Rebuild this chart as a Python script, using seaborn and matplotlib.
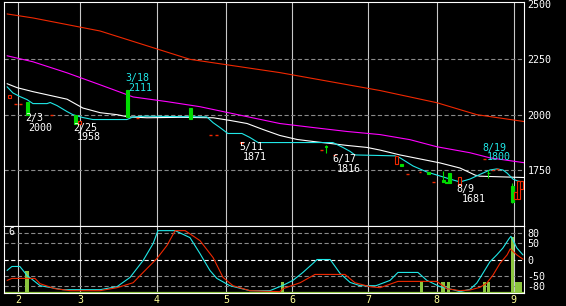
import matplotlib
matplotlib.use('Agg')
import matplotlib.pyplot as plt
import seaborn as sns
import pandas as pd

sns.set_theme(style='dark')
plt.rcParams['font.family'] = ['DejaVu Sans Mono', 'DejaVu Sans']

# ---------------- data (x = trading-day index) ----------------
month_pos = [4.1, 22.1, 44.4, 64.5, 83.6, 105.7, 125.7, 148.0]
month_labels = ['2', '3', '4', '5', '6', '7', '8', '9']
price_ticks = [2500, 2250, 2000, 1750]
osc_ticks = [80, 50, 0, -50, -80]

ma_red_x = [0.9, 8.4, 27.9, 54.0, 80.1, 109.2, 125.7, 137.3, 151.0]
ma_red_y = [2455, 2437, 2378, 2250, 2190, 2109, 2054, 2000, 1969]

ma_mag_x = [0.9, 8.4, 18.3, 27.9, 37.5, 47.3, 56.9, 70.6, 80.1, 89.7, 99.6, 109.2,
            117.9, 125.7, 135.3, 141.1, 151.0]
ma_mag_y = [2266, 2239, 2189, 2135, 2080, 2059, 2036, 1991, 1960, 1942, 1924, 1910,
            1887, 1855, 1828, 1805, 1783]

ma_wht_x = [0.9, 3.8, 8.4, 18.3, 22.9, 27.9, 32.8, 36.0, 41.5, 51.1, 60.7, 65.6, 70.6,
            75.2, 80.1, 85.1, 89.7, 94.7, 99.6, 105.4, 109.2, 115.0, 120.8, 126.6,
            132.4, 136.8, 138.2, 151.0]
ma_wht_y = [2140, 2122, 2104, 2070, 2030, 2009, 2000, 1990, 1986, 1988, 1986, 1974, 1960,
            1933, 1906, 1888, 1879, 1870, 1861, 1852, 1840, 1818, 1800, 1782,
            1759, 1727, 1722, 1716]

ma_cyn_x = [0.9, 2.6, 4.6, 6.7, 8.4, 12.5, 13.4, 15.4, 18.3, 20.0, 22.9, 25.8, 35.7,
            37.5, 40.9, 58.9, 60.7, 62.7, 65.0, 69.1, 71.4, 73.8, 95.5, 98.4, 100.5,
            101.9, 113.5, 115.0, 118.8, 122.8, 126.6, 130.4, 132.4, 135.3, 138.2,
            141.1, 143.1, 144.9, 146.1, 147.8, 149.2, 151.0]
ma_cyn_y = [2126, 2098, 2082, 2068, 2050, 2050, 2055, 2041, 2014, 2000, 1987, 1978, 1978,
            1990, 1993, 1990, 1964, 1942, 1915, 1915, 1897, 1874, 1874, 1852, 1834,
            1818, 1814, 1805, 1768, 1741, 1723, 1705, 1696, 1709, 1730,
            1750, 1755, 1750, 1736, 1709, 1700, 1695]

cd_day = [1.6, 3.3, 4.9, 6.8, 13.9, 20.8, 21.8, 35.9, 38.9, 54.2, 60.0, 61.6, 69.1,
          92.3, 93.5, 96.1, 114.1, 115.3, 117.3, 120.8, 123.4, 124.6, 127.5, 128.6,
          129.5, 132.4, 139.4, 140.6, 142.0, 143.4, 147.6, 148.6, 149.5, 150.4]
cd_open = [2077, 2050, 2050, 2055, 2000, 2000, 1960, 2111, 1986, 2032, 1909, 1909, 1871,
           1841, 1859, 1816, 1777, 1775, 1732, 1741, 1741, 1696, 1705, 1698,
           1736, 1681, 1800, 1738, 1750, 1755, 1677, 1619, 1619, 1664]
cd_high = [2091, 2050, 2050, 2055, 2000, 2000, 1972, 2111, 1986, 2032, 1909, 1909, 1878,
           1841, 1864, 1820, 1814, 1775, 1732, 1741, 1741, 1696, 1745, 1698,
           1736, 1718, 1800, 1750, 1750, 1755, 1691, 1650, 1700, 1700]
cd_low = [2077, 2050, 2050, 2000, 2000, 1958, 1960, 1988, 1986, 1982, 1909, 1909, 1871,
          1841, 1827, 1816, 1777, 1770, 1732, 1741, 1732, 1696, 1695, 1692,
          1691, 1681, 1800, 1714, 1750, 1755, 1600, 1619, 1619, 1664]
cd_close = [2091, 2050, 2050, 2000, 2000, 1958, 1972, 1988, 1986, 1982, 1909, 1909, 1878,
            1841, 1855, 1820, 1814, 1770, 1732, 1741, 1732, 1696, 1695, 1692,
            1691, 1718, 1800, 1736, 1750, 1755, 1605, 1650, 1700, 1700]

note_text = ['2/3', '2000', '2/25', '1958', '3/18', '2111', '5/11', '1871',
             '6/17', '1816', '8/9', '1681', '8/19', '1800']
note_day = [6.1, 7.0, 20.0, 21.2, 35.1, 36.0, 68.2, 69.4, 95.5, 96.7, 131.5, 133.0,
            138.8, 140.2]
note_val = [1985, 1940, 1940, 1899, 2166, 2120, 1854, 1808, 1799, 1754, 1664, 1619,
            1849, 1808]
note_kind = ['low', 'low', 'low', 'low', 'high', 'high', 'low', 'low', 'low', 'low',
             'low', 'low', 'high', 'high']

osc_cyn_x = [0.9, 2.3, 4.6, 6.7, 10.5, 17.1, 27.9, 32.8, 36.6, 40.4, 43.3, 44.7, 49.7,
             54.0, 56.9, 59.8, 61.8, 65.6, 71.4, 77.2, 81.0, 83.9, 86.8, 89.7, 90.9,
             94.7, 97.6, 100.5, 103.4, 108.0, 112.1, 114.4, 120.2, 122.8, 126.6,
             130.4, 132.4, 135.3, 137.3, 139.1, 141.1, 143.1, 144.9, 146.6, 147.2,
             148.9, 150.7]
osc_cyn_y = [-33, -21, -21, -48, -79, -91, -91, -82, -54, -3, 48, 87, 87,
             66, 18, -33, -57, -79, -94, -94, -78, -63, -39, -12, 0,
             0, -42, -69, -79, -79, -63, -39, -39, -63, -82,
             -91, -97, -90, -71, -41, -7, 14, 35, 62, 70,
             35, 14]

osc_red_x = [0.9, 2.3, 9.0, 10.5, 14.8, 19.2, 27.9, 32.8, 37.5, 40.4, 44.4, 47.3, 49.7,
             52.6, 56.9, 60.7, 63.6, 66.5, 71.4, 80.1, 81.0, 86.0, 90.3, 99.0, 101.9,
             106.3, 109.2, 114.4, 125.7, 128.6, 132.4, 135.3, 138.2, 140.2, 142.0,
             144.0, 146.1, 147.0, 148.9, 150.7]
osc_red_y = [-63, -57, -57, -73, -88, -94, -94, -85, -70, -39, 3, 42, 87,
             87, 57, 6, -54, -79, -94, -97, -88, -70, -45, -45, -70,
             -82, -85, -66, -66, -88, -94, -92, -84, -71, -47,
             -12, 14, 32, 14, 1]

hist_day = [6.7, 80.8, 121.3, 127.5, 129.0, 139.5, 140.7, 147.6, 148.8, 149.9]
hist_val = [-35, -68, -68, -68, -68, -68, -68, 68, -68, -68]

# ---------------- styling ----------------
BG = 'black'
C_RED = '#f02800'
C_MAG = '#ff00ff'
C_CYN = '#20e8e8'
C_WHT = '#ffffff'
C_GRN = '#00dc00'
C_HIST = '#8cc63f'
C_XLAB = '#ffff99'
LW = 0.8
FS = 7.2

fig = plt.figure(figsize=(5.66, 3.06), dpi=100, facecolor=BG)
ax1 = fig.add_axes([4 / 566, 1 - 226 / 306, 520 / 566, 224 / 306], facecolor=BG)
ax2 = fig.add_axes([4 / 566, 1 - 293 / 306, 520 / 566, 67 / 306], facecolor=BG)

XL = (0.0, 151.0)
for ax in (ax1, ax2):
    ax.set_xlim(*XL)
    ax.grid(False)
    for sp in ax.spines.values():
        sp.set_color('white')
        sp.set_linewidth(0.8)
    for m in month_pos:
        ax.axvline(m, color='#c8c8c8', lw=0.8, zorder=0.5)

ax1.set_ylim(1497, 2509)
ax2.set_ylim(-101, 101)

# horizontal dashed grid
for v in price_ticks[1:]:
    ax1.axhline(v, color='#8a8a8a', lw=0.8, ls=(0, (3.8, 2.2)), zorder=0.6)
for v in osc_ticks:
    col = 'white' if v == 0 else '#8a8a8a'
    ax2.axhline(v, color=col, lw=0.8, ls=(0, (3.8, 2.2)), zorder=0.6)

# moving averages
def line(ax, xs, ys, color):
    df = pd.DataFrame({'x': xs, 'y': ys})
    sns.lineplot(data=df, x='x', y='y', ax=ax, color=color, lw=LW,
                 estimator=None, sort=False, legend=False, zorder=2)

line(ax1, ma_red_x, ma_red_y, C_RED)
line(ax1, ma_mag_x, ma_mag_y, C_MAG)
line(ax1, ma_wht_x, ma_wht_y, C_WHT)
line(ax1, ma_cyn_x, ma_cyn_y, C_CYN)

# candles
W = 0.85
for d, o, h, l, c in zip(cd_day, cd_open, cd_high, cd_low, cd_close):
    if o == c:
        ax1.hlines(o, d - W / 2, d + W / 2, color=C_RED, lw=1.0, zorder=4)
        continue
    up = c > o
    col = C_RED if up else C_GRN
    if h > max(o, c) or l < min(o, c):
        ax1.vlines(d, l, h, color=col, lw=0.8, zorder=3)
    ax1.bar(d, abs(c - o), bottom=min(o, c), width=W,
            facecolor=BG if up else C_GRN, edgecolor=col, linewidth=0.8, zorder=4)

for t, d, v, k in zip(note_text, note_day, note_val, note_kind):
    ax1.text(d, v, t, color=C_CYN if k == 'high' else 'white', fontsize=FS,
             ha='left', va='center', zorder=5)

# price axis on right
ax1.yaxis.tick_right()
ax1.set_yticks(price_ticks)
ax1.set_yticklabels([str(v) for v in price_ticks])
ax1.tick_params(axis='y', length=0, pad=2.5, labelsize=FS, colors='white')
ax1.set_xticks([])
ax1.set_xlabel('')
ax1.set_ylabel('')

# lower panel
ax2.bar(hist_day, [v + 101 for v in hist_val], bottom=-101, width=1.0,
        color=C_HIST, linewidth=0, zorder=1.5)
ax2.axhline(-99.5, color=C_HIST, lw=1.6, zorder=1.6)
line(ax2, osc_cyn_x, osc_cyn_y, C_CYN)
line(ax2, osc_red_x, osc_red_y, C_RED)
ax2.text(0.009, 0.91, '6', transform=ax2.transAxes, color='white', fontsize=FS,
         ha='left', va='center')

ax2.yaxis.tick_right()
ax2.set_yticks(osc_ticks)
ax2.set_yticklabels([str(v) for v in osc_ticks])
ax2.tick_params(axis='y', length=0, pad=2.5, labelsize=FS, colors='white')
ax2.set_xticks(month_pos)
ax2.set_xticklabels(month_labels)
ax2.tick_params(axis='x', length=0, pad=1.5, labelsize=FS, colors=C_XLAB)
ax2.set_xlabel('')
ax2.set_ylabel('')

fig.savefig('out.png', dpi=100, facecolor=BG)
